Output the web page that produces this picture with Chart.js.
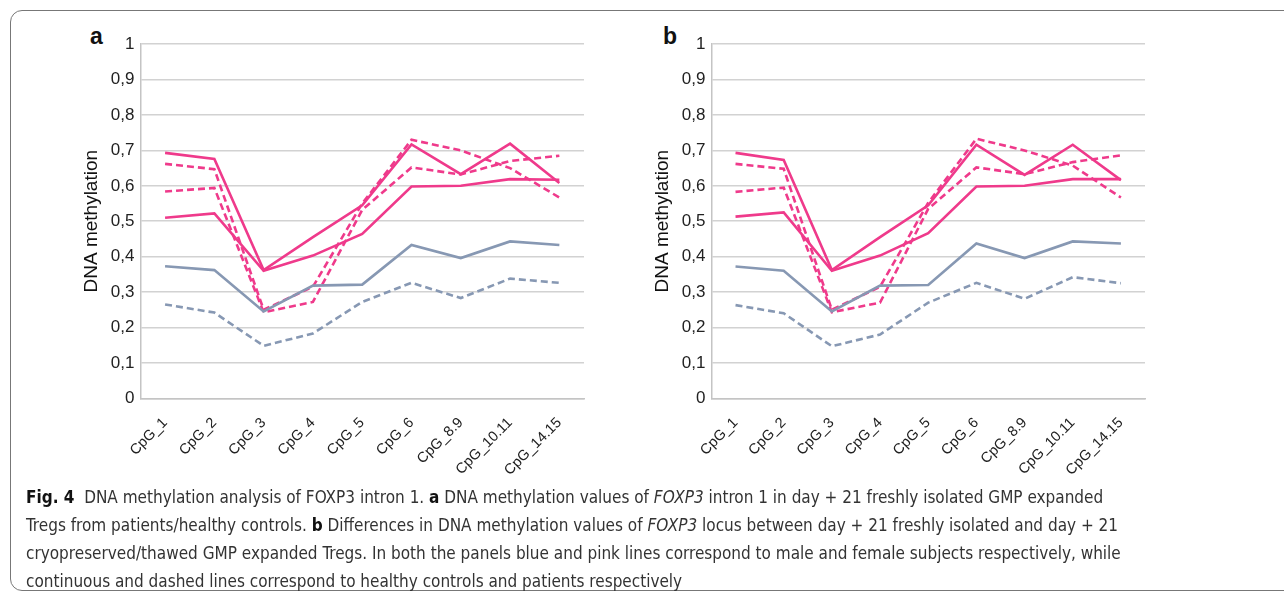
<!DOCTYPE html>
<html>
<head>
<meta charset="utf-8">
<script src="https://cdn.jsdelivr.net/npm/chart.js@4.4.0/dist/chart.umd.min.js"></script>
<style>
  body { margin: 0; background: #fff; width: 1284px; height: 599px; overflow: hidden; position: relative; font-family: "Liberation Sans", Arial, sans-serif; }
  .marco { position: absolute; left: 10px; top: 10px; width: 1300px; height: 579px; border: 1px solid #777; border-radius: 12px; }
  .panel { position: absolute; }
  .letra { position: absolute; font-weight: bold; font-size: 23px; color: #111; }
  .leyenda { position: absolute; left: 26px; top: 483px; width: 1250px; font-family: "DejaVu Sans Condensed", "DejaVu Sans", sans-serif; font-stretch: condensed; font-size: 17px; line-height: 28px; color: #333; }
  .leyenda b { color: #111; }
</style>
</head>
<body>
<div class="marco"></div>
<div class="letra" style="left:90px;top:23px;">a</div>
<div class="letra" style="left:663px;top:23px;">b</div>
<div class="panel" style="left:78px;top:28px;width:514px;height:459px;"><canvas id="graficoA"></canvas></div>
<div class="panel" style="left:649px;top:28px;width:504px;height:459px;"><canvas id="graficoB"></canvas></div>
<div class="leyenda"><b>Fig. 4</b>&nbsp; DNA methylation analysis of FOXP3 intron 1. <b>a</b> DNA methylation values of <i>FOXP3</i> intron 1 in day + 21 freshly isolated GMP expanded<br>Tregs from patients/healthy controls. <b>b</b> Differences in DNA methylation values of <i>FOXP3</i> locus between day + 21 freshly isolated and day + 21<br>cryopreserved/thawed GMP expanded Tregs. In both the panels blue and pink lines correspond to male and female subjects respectively, while<br>continuous and dashed lines correspond to healthy controls and patients respectively</div>
<script>
// ===== DATOS =====
const categorias = ["CpG_1", "CpG_2", "CpG_3", "CpG_4", "CpG_5", "CpG_6", "CpG_8.9", "CpG_10.11", "CpG_14.15"];

// panel a
const aRosaSolida1 = [0.693, 0.676, 0.362, 0.455, 0.545, 0.717, 0.633, 0.719, 0.608];
const aRosaSolida2 = [0.510, 0.522, 0.360, 0.403, 0.464, 0.598, 0.600, 0.619, 0.617];
const aRosaPunteada1 = [0.662, 0.647, 0.250, 0.315, 0.550, 0.730, 0.700, 0.650, 0.567];
const aRosaPunteada2 = [0.584, 0.594, 0.243, 0.272, 0.532, 0.652, 0.632, 0.670, 0.685];
const aAzulSolida = [0.373, 0.362, 0.245, 0.318, 0.321, 0.433, 0.396, 0.443, 0.433];
const aAzulPunteada = [0.265, 0.242, 0.148, 0.183, 0.272, 0.326, 0.283, 0.338, 0.326];

// panel b
const bRosaSolida1 = [0.693, 0.673, 0.362, 0.455, 0.545, 0.716, 0.631, 0.716, 0.616];
const bRosaSolida2 = [0.513, 0.525, 0.360, 0.403, 0.466, 0.598, 0.600, 0.619, 0.619];
const bRosaPunteada1 = [0.662, 0.648, 0.250, 0.315, 0.552, 0.733, 0.700, 0.657, 0.567];
const bRosaPunteada2 = [0.583, 0.595, 0.243, 0.270, 0.535, 0.652, 0.633, 0.667, 0.686];
const bAzulSolida = [0.372, 0.360, 0.245, 0.318, 0.320, 0.437, 0.396, 0.443, 0.437];
const bAzulPunteada = [0.263, 0.240, 0.147, 0.180, 0.270, 0.326, 0.281, 0.342, 0.325];

const ROSA = "#ef3a8b";
const AZUL = "#8798b3";

function serie(valores, color, punteada) {
  return {
    data: valores,
    borderColor: color,
    borderWidth: 2.6,
    borderDash: punteada ? [7, 4] : [],
    pointRadius: 0,
    tension: 0,
    fill: false
  };
}

function crearGrafico(id, series) {
  return new Chart(document.getElementById(id), {
    type: "line",
    data: { labels: categorias, datasets: series },
    options: {
      responsive: true,
      maintainAspectRatio: false,
      animation: false,
      layout: { padding: { top: 2, right: 8, left: 0, bottom: 0 } },
      plugins: { legend: { display: false }, tooltip: { enabled: false } },
      scales: {
        x: {
          offset: true,
          grid: { display: false },
          border: { color: "#c4c4c4", width: 1.5 },
          ticks: {
            minRotation: 45, maxRotation: 45, padding: 8,
            color: "#222",
            font: { family: "Liberation Sans", size: 14.5 }
          }
        },
        y: {
          min: 0, max: 1,
          grid: { color: "#d2d2d2", lineWidth: 1.5, drawTicks: false },
          border: { color: "#c4c4c4", width: 1.5 },
          ticks: {
            stepSize: 0.1, padding: 6,
            color: "#222",
            font: { family: "Liberation Sans", size: 17 },
            callback: v => String(Math.round(v * 10) / 10).replace(".", ",")
          },
          title: {
            display: true, text: "DNA methylation", color: "#111",
            font: { family: "Liberation Sans", size: 19 }, padding: 2
          }
        }
      }
    }
  });
}

crearGrafico("graficoA", [
  serie(aAzulPunteada, AZUL, true),
  serie(aAzulSolida, AZUL, false),
  serie(aRosaPunteada1, ROSA, true),
  serie(aRosaPunteada2, ROSA, true),
  serie(aRosaSolida1, ROSA, false),
  serie(aRosaSolida2, ROSA, false)
]);

crearGrafico("graficoB", [
  serie(bAzulPunteada, AZUL, true),
  serie(bAzulSolida, AZUL, false),
  serie(bRosaPunteada1, ROSA, true),
  serie(bRosaPunteada2, ROSA, true),
  serie(bRosaSolida1, ROSA, false),
  serie(bRosaSolida2, ROSA, false)
]);
</script>
</body>
</html>
